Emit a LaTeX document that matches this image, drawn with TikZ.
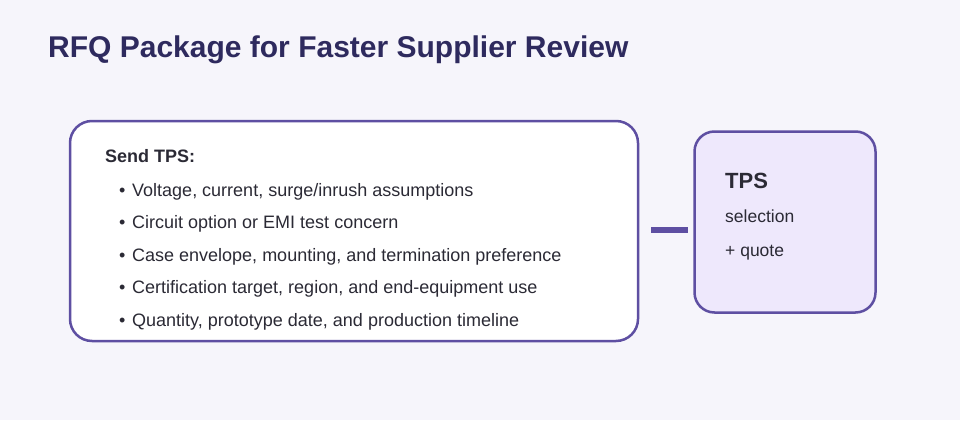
\documentclass[tikz,border=0pt]{standalone}
\usepackage{fontspec}
\setmainfont{Liberation Sans}
\begin{document}
\begin{tikzpicture}[x=1pt,y=-1pt,
  txt/.style={anchor=base west,inner sep=0pt,text=textc,font=\fontsize{18}{21}\selectfont},
  panel/.style={draw=edge,line width=2.5pt,rounded corners=22pt,inner sep=0pt}]
\definecolor{bg}{HTML}{F6F5FB}
\definecolor{edge}{HTML}{5E4FA2}
\definecolor{titlec}{HTML}{2E2A5E}
\definecolor{textc}{HTML}{2B2A35}
\definecolor{tpsfill}{HTML}{EEE8FC}
\fill[bg] (0,0) rectangle (960,420);
\useasboundingbox (0,0) rectangle (960,420);
\node[anchor=base west,inner sep=0pt,text=titlec,font=\fontsize{30}{36}\selectfont\bfseries] (title) at (48,58) {RFQ Package for Faster Supplier Review};
\node[panel,fill=white,minimum width=568pt,minimum height=220pt] (left) at (354,231) {};
\node[panel,fill=tpsfill,rounded corners=20pt,minimum width=181pt,minimum height=181pt] (right) at (785,222) {};
\draw[edge,line width=6pt,shorten <=12pt,shorten >=5pt] ([yshift=1pt]left.east) -- ([yshift=1pt]left.east -| right.west);
\node[txt,font=\fontsize{18}{21}\selectfont\bfseries] (hd) at (105,162) {Send TPS:};
\foreach \y/\t [count=\i] in {196/{Voltage, current, surge/inrush assumptions},228.5/{Circuit option or EMI test concern},261/{Case envelope, mounting, and termination preference},293.5/{Certification target, region, and end-equipment use},326/{Quantity, prototype date, and production timeline}}{
  \node[txt] (b\i) at (119,\y) {•};
  \node[txt] (l\i) at (132,\y) {\t};
}
\node[txt,font=\fontsize{22}{26}\selectfont\bfseries] (tps) at (725,188) {TPS};
\node[txt,font=\fontsize{17.5}{21}\selectfont] (sel) at (725,222) {selection};
\node[txt,font=\fontsize{17.5}{21}\selectfont] (quo) at (725,256) {+ quote};
\end{tikzpicture}
\end{document}
